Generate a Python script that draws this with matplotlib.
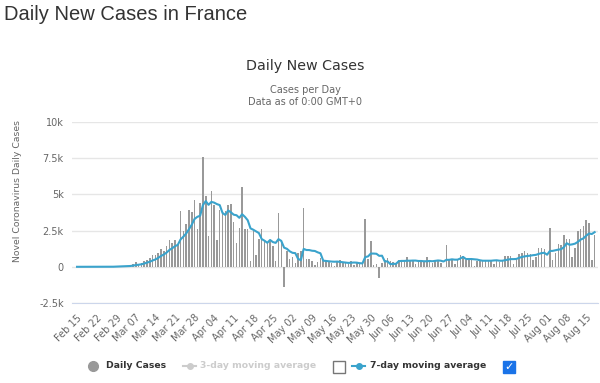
import matplotlib
matplotlib.use("Agg")
import matplotlib.pyplot as plt
from matplotlib.lines import Line2D
from matplotlib.patches import Rectangle
import numpy as np

# daily new cases, one value per day from Feb 15 to Aug 18
daily_cases = [
    1, 0, 0, 0, 0, 0, 0, 0, 0, 0, 2, 4, 20, 19, 43,
    30, 61, 21, 73, 138, 190, 336, 177, 286, 372, 497, 595, 785, 838, 924,
    1210, 1097, 1404, 1861, 1617, 1847, 1559, 3838, 2446, 2931, 3922, 3809, 4611, 2599, 4376,
    7578, 4861, 2116, 5233, 4267, 1873, 3912, 3777, 3881, 4286, 4342, 3114, 1613, 2673, 5497,
    2633, 2641, 405, 2450, 785, 1900, 2600, 1850, 1620, 1750, 1450, 400, 3700, 1750, -1400,
    1060, 550, 700, 250, 950, 1060, 4070, 530, 530, 370, 140, 300, 600, 500, 370,
    370, 250, 70, 370, 440, 300, 250, 200, 370, 140, 300, 200, 180, 3300, 530,
    1750, 140, 200, -800, 250, 500, 600, 370, 300, 200, 500, 370, 500, 700, 370,
    370, 200, 300, 370, 370, 700, 500, 250, 370, 500, 250, 0, 1500, 500, 500,
    200, 500, 830, 720, 500, 500, 500, 70, 370, 500, 500, 500, 500, 500, 200,
    440, 300, 500, 760, 760, 760, 200, 500, 850, 920, 1060, 950, 900, 440, 650,
    1300, 1300, 1250, 0, 2700, 500, 950, 1600, 1500, 2200, 1950, 1950, 700, 1300, 2450,
    2600, 2800, 3260, 3000, 440, 2200,
]

# 7-day moving average
avg_7day = [
    0, 0, 0, 0, 0, 0, 0, 0, 0, 0, 0, 1, 4, 6, 13,
    17, 26, 28, 38, 55, 79, 121, 142, 174, 225, 285, 350, 435, 507, 614,
    746, 849, 979, 1160, 1279, 1423, 1514, 1889, 2082, 2300, 2594, 2907, 3302, 3451, 3528,
    4261, 4537, 4279, 4482, 4433, 4329, 4263, 3720, 3580, 3890, 3763, 3598, 3561, 3384, 3629,
    3451, 3216, 2654, 2559, 2441, 2330, 1916, 1804, 1659, 1851, 1708, 1653, 1910, 1789, 1324,
    1244, 1073, 966, 944, 551, 453, 1234, 1159, 1156, 1109, 1093, 1000, 934, 424, 401,
    379, 361, 351, 361, 339, 310, 293, 269, 286, 296, 286, 251, 234, 670, 717,
    914, 914, 900, 757, 767, 367, 377, 180, 203, 203, 389, 406, 406, 420, 420,
    430, 430, 401, 401, 383, 383, 401, 384, 409, 437, 420, 367, 481, 481, 517,
    493, 493, 576, 679, 536, 536, 536, 517, 499, 451, 420, 420, 420, 420, 439,
    449, 420, 420, 457, 494, 531, 531, 540, 619, 679, 721, 749, 769, 803, 824,
    889, 943, 970, 834, 1091, 1100, 1143, 1186, 1214, 1350, 1629, 1521, 1550, 1600, 1721,
    1879, 1964, 2151, 2301, 2264, 2393,
]

tick_labels = ["Feb 15", "Feb 22", "Feb 29", "Mar 07", "Mar 14", "Mar 21", "Mar 28",
               "Apr 04", "Apr 11", "Apr 18", "Apr 25", "May 02", "May 09", "May 16",
               "May 23", "May 30", "Jun 06", "Jun 13", "Jun 20", "Jun 27", "Jul 04",
               "Jul 11", "Jul 18", "Jul 25", "Aug 01", "Aug 08", "Aug 15"]
y_ticks = [-2500, 0, 2500, 5000, 7500, 10000]
y_labels = ["-2.5k", "0", "2.5k", "5k", "7.5k", "10k"]

W, H = 600, 383
BAR = "#999999"
BLUE = "#3aa3cc"
TXT = "#333333"
SUB = "#666666"

def fx(x):
    return x / W

def fy(y):
    return 1 - y / H

fig = plt.figure(figsize=(W / 100, H / 100), dpi=100)

# plot area
ax = fig.add_axes([fx(72), fy(303), (598 - 72) / W, (303 - 122) / H])
days = np.arange(len(daily_cases))
ax.bar(days, daily_cases, width=0.55, color=BAR, zorder=2)
ax.plot(days, avg_7day, color=BLUE, lw=1.5, zorder=3)

ax.set_xlim(-1.8, 186.2)
ax.set_ylim(-2500, 10000)
ax.set_yticks(y_ticks)
ax.set_yticklabels(y_labels)
ax.set_xticks(days[::7][:len(tick_labels)])
ax.set_xticklabels(tick_labels, rotation=45, ha="right", va="top", rotation_mode="anchor")
ax.grid(axis="y", color="#e6e6e6", lw=1, zorder=0)
for s in ["top", "right", "left"]:
    ax.spines[s].set_visible(False)
ax.spines["bottom"].set_color("#ccd6eb")
ax.tick_params(axis="y", length=0, pad=6, labelsize=7, labelcolor=SUB)
ax.tick_params(axis="x", length=0, pad=7, labelsize=7, labelcolor=SUB)
ax.set_ylabel("Novel Coronavirus Daily Cases", fontsize=6.7, color=SUB)
ax.yaxis.set_label_coords(-(72 - 22) / 526, 0.62)

# titles
fig.text(fx(4), fy(14), "Daily New Cases in France", fontsize=14.5, color=TXT,
         family="Liberation Sans", va="center", ha="left")
fig.text(fx(305), fy(66), "Daily New Cases", fontsize=10.3, color=TXT, ha="center", va="center")
fig.text(fx(305), fy(90), "Cases per Day", fontsize=7, color=SUB, ha="center", va="center")
fig.text(fx(305), fy(102), "Data as of 0:00 GMT+0", fontsize=7, color=SUB, ha="center", va="center")

# legend drawn by hand
ly = 366
fs = 6.7
fig.add_artist(Line2D([fx(93)], [fy(ly)], marker="o", ms=7, color=BAR, transform=fig.transFigure))
fig.text(fx(106), fy(ly), "Daily Cases", fontsize=fs, weight="bold", color=TXT, va="center")

fig.add_artist(Line2D([fx(183), fx(196)], [fy(ly), fy(ly)], color="#cccccc", lw=1.5,
                      transform=fig.transFigure))
fig.add_artist(Line2D([fx(189.5)], [fy(ly)], marker="o", ms=4, color="#cccccc",
                      transform=fig.transFigure))
fig.text(fx(200), fy(ly), "3-day moving average", fontsize=fs, weight="bold", color="#cccccc", va="center")
fig.add_artist(Rectangle((fx(333), fy(373)), 12 / W, 12 / H, transform=fig.transFigure,
                         facecolor="white", edgecolor="#767676", lw=1))

fig.add_artist(Line2D([fx(352), fx(365)], [fy(ly), fy(ly)], color=BLUE, lw=1.5,
                      transform=fig.transFigure))
fig.add_artist(Line2D([fx(358.5)], [fy(ly)], marker="o", ms=4, color=BLUE,
                      transform=fig.transFigure))
fig.text(fx(370), fy(ly), "7-day moving average", fontsize=fs, weight="bold", color=TXT, va="center")
fig.add_artist(Rectangle((fx(503), fy(373)), 12 / W, 12 / H, transform=fig.transFigure,
                         facecolor="#1a73e8", edgecolor="#1a73e8", lw=1))
fig.text(fx(509), fy(367), "\u2713", fontsize=8, color="white", weight="bold", ha="center", va="center")

fig.savefig("out.png", dpi=100)
